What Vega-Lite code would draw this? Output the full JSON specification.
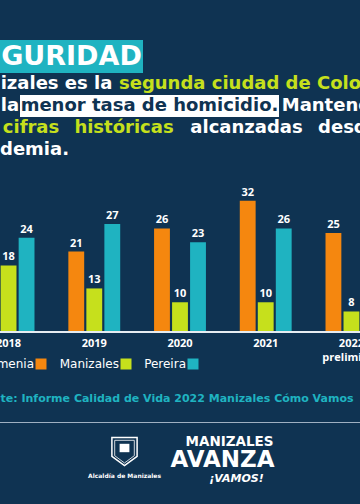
{
  "$schema": "https://vega.github.io/schema/vega-lite/v6.json",
  "background": "#0f3352",
  "padding": {"top": 40, "left": -5, "right": 0, "bottom": 30},
  "config": {"view": {"stroke": null}, "concat": {"spacing": 0}},
  "spacing": 0,
  "vconcat": [
    {"width": 143, "height": 33, "view": {"fill": "#1fb3c1"}, "data": {"values": [{"t": "GURIDAD"}]},
     "mark": {"type": "text", "font": "DejaVu Sans", "fontWeight": "bold", "fontSize": 27, "color": "#ffffff"},
     "encoding": {"text": {"field": "t"}}},
    {"spacing": 0, "hconcat": [
      {"width": 113, "height": 22, "data": {"values": [{"t": "izales es la"}]},
       "mark": {"type": "text", "font": "DejaVu Sans", "fontWeight": "bold", "fontSize": 18, "color": "#ffffff"},
       "encoding": {"text": {"field": "t"}}},
      {"width": 304, "height": 22, "data": {"values": [{"t": "segunda ciudad de Colombia"}]},
       "mark": {"type": "text", "font": "DejaVu Sans", "fontWeight": "bold", "fontSize": 18, "color": "#c6e01c"},
       "encoding": {"text": {"field": "t"}}}
    ]},
    {"spacing": 0, "hconcat": [
      {"width": 20, "height": 22, "data": {"values": [{"t": "la"}]},
       "mark": {"type": "text", "font": "DejaVu Sans", "fontWeight": "bold", "fontSize": 18, "color": "#ffffff"},
       "encoding": {"text": {"field": "t"}}},
      {"width": 259, "height": 22, "view": {"fill": "#ffffff"}, "data": {"values": [{"t": "menor tasa de homicidio."}]},
       "mark": {"type": "text", "font": "DejaVu Sans", "fontWeight": "bold", "fontSize": 18, "color": "#0f3352"},
       "encoding": {"text": {"field": "t"}}},
      {"width": 136, "height": 22, "data": {"values": [{"t": "Mantenemos"}]},
       "mark": {"type": "text", "font": "DejaVu Sans", "fontWeight": "bold", "fontSize": 18, "color": "#ffffff"},
       "encoding": {"text": {"field": "t"}}}
    ]},
    {"spacing": 0, "hconcat": [
      {"width": 62, "height": 22, "data": {"values": [{"t": "cifras"}]},
       "mark": {"type": "text", "font": "DejaVu Sans", "fontWeight": "bold", "fontSize": 18, "color": "#c6e01c"},
       "encoding": {"text": {"field": "t"}}},
      {"width": 124, "height": 22, "data": {"values": [{"t": "históricas"}]},
       "mark": {"type": "text", "font": "DejaVu Sans", "fontWeight": "bold", "fontSize": 18, "color": "#c6e01c"},
       "encoding": {"text": {"field": "t"}}},
      {"width": 121, "height": 22, "data": {"values": [{"t": "alcanzadas"}]},
       "mark": {"type": "text", "font": "DejaVu Sans", "fontWeight": "bold", "fontSize": 18, "color": "#ffffff"},
       "encoding": {"text": {"field": "t"}}},
      {"width": 83, "height": 22, "data": {"values": [{"t": "desde"}]},
       "mark": {"type": "text", "font": "DejaVu Sans", "fontWeight": "bold", "fontSize": 18, "color": "#ffffff"},
       "encoding": {"text": {"field": "t"}}}
    ]},
    {"width": 69, "height": 22, "data": {"values": [{"t": "demia."}]},
     "mark": {"type": "text", "font": "DejaVu Sans", "fontWeight": "bold", "fontSize": 18, "color": "#ffffff"},
     "encoding": {"text": {"field": "t"}}},
    {"width": 360, "height": 171,
     "data": {"values": [
       {"year": "2018", "city": "Manizales", "value": 18},
       {"year": "2018", "city": "Pereira", "value": 24},
       {"year": "2019", "city": "Armenia", "value": 21},
       {"year": "2019", "city": "Manizales", "value": 13},
       {"year": "2019", "city": "Pereira", "value": 27},
       {"year": "2020", "city": "Armenia", "value": 26},
       {"year": "2020", "city": "Manizales", "value": 10},
       {"year": "2020", "city": "Pereira", "value": 23},
       {"year": "2021", "city": "Armenia", "value": 32},
       {"year": "2021", "city": "Manizales", "value": 10},
       {"year": "2021", "city": "Pereira", "value": 26},
       {"year": "2022", "city": "Armenia", "value": 25},
       {"year": "2022", "city": "Manizales", "value": 8}
     ]},
     "layer": [
       {"mark": {"type": "bar"},
        "encoding": {
          "x": {"field": "year", "type": "nominal",
                "scale": {"paddingInner": 0, "paddingOuter": 0, "range": [-34.3, 394.3]},
                "axis": {"title": null, "labelAngle": 0, "ticks": false, "domain": false,
                         "labelColor": "#ffffff", "labelFont": "Open Sans", "labelFontWeight": "bold", "labelFontSize": 11,
                         "labelPadding": 5, "labelLineHeight": 14,
                         "labelExpr": "datum.value == '2022' ? ['2022', 'preliminar'] : datum.label"}},
          "xOffset": {"field": "city", "type": "nominal",
                      "scale": {"domain": ["Armenia", "Manizales", "Pereira"], "paddingInner": 0.12, "paddingOuter": 0.94}},
          "y": {"field": "value", "type": "quantitative",
                "scale": {"domain": [3.55, 40.64], "zero": false, "nice": false, "clamp": true}, "axis": null},
          "color": {"field": "city", "type": "nominal",
            "scale": {"domain": ["Armenia", "Manizales", "Pereira"], "range": ["#f5870f", "#c6e01c", "#1fb3c1"]},
            "legend": {"orient": "none", "legendX": 35, "legendY": 318, "direction": "horizontal", "title": null,
                       "symbolType": "square", "symbolSize": 121, "symbolStrokeWidth": 0, "symbolOpacity": 1,
                       "labelColor": "#ffffff", "labelFont": "DejaVu Sans", "labelFontSize": 12,
                       "labelAlign": "right", "labelOffset": -13, "columnPadding": 12, "padding": 0}}}},
       {"mark": {"type": "text", "dy": -3, "baseline": "bottom", "font": "Open Sans", "fontWeight": "bold", "fontSize": 11, "color": "#ffffff"},
        "encoding": {
          "x": {"field": "year", "type": "nominal"},
          "xOffset": {"field": "city", "type": "nominal"},
          "y": {"field": "value", "type": "quantitative"},
          "text": {"field": "value", "type": "quantitative"}}},
       {"mark": {"type": "rule", "color": "#e6ecf1", "strokeWidth": 2},
        "encoding": {"y": {"datum": 3.55}}}
     ]},
    {"width": 360, "height": 15, "data": {"values": [{"t": ""}]}, "mark": {"type": "text", "fontSize": 1}, "encoding": {"text": {"field": "t"}}},
    {"width": 354, "height": 44, "data": {"values": [{"t": "te: Informe Calidad de Vida 2022 Manizales Cómo Vamos"}]},
     "mark": {"type": "text", "font": "DejaVu Sans", "fontWeight": "bold", "fontSize": 11, "color": "#1fb3c1"},
     "encoding": {"text": {"field": "t"}}},
    {"width": 360, "height": 1, "view": {"fill": "#9fb0c2"}, "data": {"values": [{"t": ""}]}, "mark": {"type": "text", "fontSize": 1}, "encoding": {"text": {"field": "t"}}},
    {"spacing": 0, "hconcat": [
      {"width": 88, "height": 10, "data": {"values": [{"t": ""}]}, "mark": {"type": "text", "fontSize": 1}, "encoding": {"text": {"field": "t"}}},
      {"spacing": 0, "vconcat": [
        {"width": 67, "height": 11, "data": {"values": [{"t": ""}]}, "mark": {"type": "text", "fontSize": 1}, "encoding": {"text": {"field": "t"}}},
        {"width": 67, "height": 29, "data": {"values": [{"k": "a"}]},
         "layer": [
           {"mark": {"type": "point", "shape": "M-0.9,-1L0.9,-1L0.9,0.35L0,1L-0.9,0.35Z", "size": 784, "filled": false, "stroke": "#ffffff", "strokeWidth": 1.5, "opacity": 1}, "encoding": {}},
           {"mark": {"type": "point", "shape": "M-0.7,-0.8L0.7,-0.8L0.7,0.3L0,0.82L-0.7,0.3Z", "size": 784, "filled": false, "stroke": "#ffffff", "strokeWidth": 0.8, "opacity": 1}, "encoding": {}},
           {"mark": {"type": "point", "shape": "M-0.35,-0.55L0.35,-0.55L0.35,0.05L-0.35,0.05Z", "size": 784, "filled": true, "color": "#ffffff", "opacity": 1}, "encoding": {}}
         ]},
        {"width": 67, "height": 14, "data": {"values": [{"t": "Alcaldía de Manizales"}]},
         "mark": {"type": "text", "font": "DejaVu Sans", "fontWeight": "bold", "fontSize": 6, "color": "#ffffff"},
         "encoding": {"text": {"field": "t"}}}
      ]},
      {"width": 3, "height": 10, "data": {"values": [{"t": ""}]}, "mark": {"type": "text", "fontSize": 1}, "encoding": {"text": {"field": "t"}}},
      {"spacing": 0, "vconcat": [
        {"width": 117, "height": 12, "data": {"values": [{"t": ""}]}, "mark": {"type": "text", "fontSize": 1}, "encoding": {"text": {"field": "t"}}},
        {"spacing": 0, "hconcat": [
          {"width": 19, "height": 14, "data": {"values": [{"t": ""}]}, "mark": {"type": "text", "fontSize": 1}, "encoding": {"text": {"field": "t"}}},
          {"width": 93, "height": 14, "data": {"values": [{"t": "MANIZALES"}]},
           "mark": {"type": "text", "font": "DejaVu Sans", "fontWeight": "bold", "fontSize": 13.5, "color": "#ffffff"},
           "encoding": {"text": {"field": "t"}}}
        ]},
        {"width": 117, "height": 22, "data": {"values": [{"t": "AVANZA"}]},
         "mark": {"type": "text", "font": "DejaVu Sans", "fontWeight": "bold", "fontSize": 23, "color": "#ffffff"},
         "encoding": {"text": {"field": "t"}}},
        {"spacing": 0, "hconcat": [
          {"width": 33, "height": 11, "data": {"values": [{"t": ""}]}, "mark": {"type": "text", "fontSize": 1}, "encoding": {"text": {"field": "t"}}},
          {"width": 79, "height": 11, "data": {"values": [{"t": "¡VAMOS!"}]},
           "mark": {"type": "text", "font": "DejaVu Sans", "fontWeight": "bold", "fontStyle": "italic", "fontSize": 11, "color": "#ffffff"},
           "encoding": {"text": {"field": "t"}}}
        ]}
      ]}
    ]}
  ]
}
